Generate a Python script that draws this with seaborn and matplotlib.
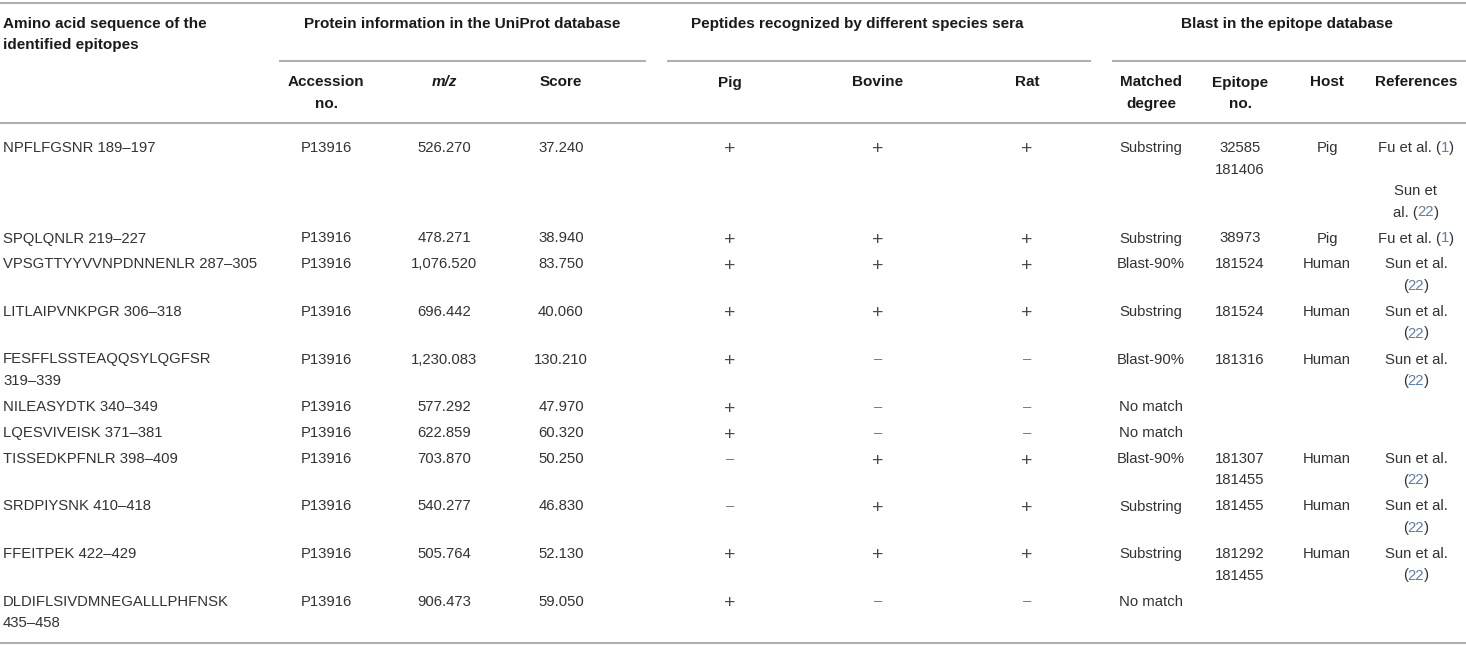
import re
import matplotlib
matplotlib.use("Agg")
import matplotlib.pyplot as plt
import pandas as pd
import seaborn as sns

# Table content
sequences = [
    "NPFLFGSNR 189–197",
    "SPQLQNLR 219–227",
    "VPSGTTYYVVNPDNNENLR 287–305",
    "LITLAIPVNKPGR 306–318",
    "FESFFLSSTEAQQSYLQGFSR\n319–339",
    "NILEASYDTK 340–349",
    "LQESVIVEISK 371–381",
    "TISSEDKPFNLR 398–409",
    "SRDPIYSNK 410–418",
    "FFEITPEK 422–429",
    "DLDIFLSIVDMNEGALLLPHFNSK\n435–458",
]
accession = ["P13916"] * 11
mz_values = [526.270, 478.271, 1076.520, 696.442, 1230.083, 577.292,
             622.859, 703.870, 540.277, 505.764, 906.473]
scores = [37.240, 38.940, 83.750, 40.060, 130.210, 47.970,
          60.320, 50.250, 46.830, 52.130, 59.050]
pig = ["+", "+", "+", "+", "+", "+", "+", "–", "–", "+", "+"]
bovine = ["+", "+", "+", "+", "–", "–", "–", "+", "+", "+", "–"]
rat = ["+", "+", "+", "+", "–", "–", "–", "+", "+", "+", "–"]
matched = ["Substring", "Substring", "Blast-90%", "Substring", "Blast-90%",
           "No match", "No match", "Blast-90%", "Substring", "Substring",
           "No match"]
epitope_no = ["32585\n181406", "38973", "181524", "181524", "181316", "", "",
              "181307\n181455", "181455", "181292\n181455", ""]
host = ["Pig", "Pig", "Human", "Human", "Human", "", "", "Human", "Human",
        "Human", ""]
references = ["Fu et al. (1)\n\nSun et\nal. (22)", "Fu et al. (1)",
              "Sun et al.\n(22)", "Sun et al.\n(22)", "Sun et al.\n(22)", "", "",
              "Sun et al.\n(22)", "Sun et al.\n(22)", "Sun et al.\n(22)", ""]

group_labels = ["Protein information in the UniProt database",
                "Peptides recognized by different species sera",
                "Blast in the epitope database"]
first_header = "Amino acid sequence of the\nidentified epitopes"
sub_headers = ["Accession\nno.", "m/z", "Score", "Pig", "Bovine", "Rat",
               "Matched\ndegree", "Epitope\nno.", "Host", "References"]

# Layout (pixels, figure is 1466 x 647 at dpi 100)
W, H = 1466, 647
COL_X = [3, 326, 444, 561, 730, 878, 1027, 1151, 1240, 1327, 1416]
GROUP_SPANS = [(279, 646), (667, 1091), (1112, 1466)]
GROUP_X = [462, 857, 1287]
LINE_H = 21.5
ROW_PAD = 4.5
BODY_FS = 10.7
HEAD_FS = 11.0
TEXT = "#333333"
HEAD = "#1a1a1a"
LINK = "#5a7fa8"
RULE = "#b0b0b0"


def build_table():
    """Put the lists into one DataFrame, one row per epitope."""
    df = pd.DataFrame({
        "seq": sequences,
        "acc": accession,
        "mz": [f"{v:,.3f}" for v in mz_values],
        "score": [f"{v:,.3f}" for v in scores],
        "pig": pig,
        "bovine": bovine,
        "rat": rat,
        "matched": matched,
        "epitope": epitope_no,
        "host": host,
        "refs": references,
    })
    return df


def draw_lines(ax, x, baseline, text, ha="center", **kw):
    """Draw a multi-line cell one line at a time with a fixed spacing."""
    for i, line in enumerate(text.split("\n")):
        if line:
            ax.text(x, baseline + i * LINE_H, line, ha=ha, va="baseline", **kw)


def draw_ref(ax, renderer, x, baseline, text):
    """Reference cell: citation numbers get the link colour."""
    for i, line in enumerate(text.split("\n")):
        if not line:
            continue
        y = baseline + i * LINE_H
        parts = [p for p in re.split(r"(\d+)", line) if p]
        probe = ax.text(0, 0, line, fontsize=BODY_FS)
        total = probe.get_window_extent(renderer).width
        offsets = []
        for k in range(len(parts)):
            prefix = "".join(parts[:k])
            if prefix:
                probe.set_text(prefix)
                offsets.append(probe.get_window_extent(renderer).width)
            else:
                offsets.append(0.0)
        probe.remove()
        start = x - total / 2
        for p, off in zip(parts, offsets):
            ax.text(start + off, y, p, ha="left", va="baseline",
                    fontsize=BODY_FS, color=LINK if p.isdigit() else TEXT)


def draw_sign(ax, x, baseline, sign):
    if sign == "+":
        ax.text(x, baseline + 2.5, "+", ha="center", va="baseline",
                fontsize=14, color="#4a4a4a")
    else:
        ax.text(x, baseline, "–", ha="center", va="baseline",
                fontsize=BODY_FS, color="#7a7a7a")


def main():
    sns.set_theme(style="white")
    plt.rcParams["font.family"] = ["Liberation Sans", "DejaVu Sans"]

    df = build_table()

    fig = plt.figure(figsize=(W / 100, H / 100), dpi=100)
    ax = fig.add_axes([0, 0, 1, 1])
    ax.set_xlim(0, W)
    ax.set_ylim(H, 0)
    ax.axis("off")
    renderer = fig.canvas.get_renderer()

    # rules
    ax.hlines([3, 123], 0, W, color=RULE, lw=1.5)
    for x0, x1 in GROUP_SPANS:
        ax.hlines(61, x0, x1, color=RULE, lw=1.5)

    # headers
    head_kw = dict(fontsize=HEAD_FS, fontweight="bold", color=HEAD)
    draw_lines(ax, COL_X[0], 28, first_header, ha="left", **head_kw)
    for label, gx in zip(group_labels, GROUP_X):
        draw_lines(ax, gx, 28, label, **head_kw)
    for label, cx in zip(sub_headers, COL_X[1:]):
        style = "italic" if label == "m/z" else "normal"
        draw_lines(ax, cx, 86.5, label, fontstyle=style, **head_kw)

    # body rows
    body_kw = dict(fontsize=BODY_FS, color=TEXT)
    baseline = 152.0
    for _, row in df.iterrows():
        draw_lines(ax, COL_X[0], baseline, row["seq"], ha="left", **body_kw)
        draw_lines(ax, COL_X[1], baseline, row["acc"], **body_kw)
        draw_lines(ax, COL_X[2], baseline, row["mz"], **body_kw)
        draw_lines(ax, COL_X[3], baseline, row["score"], **body_kw)
        for col, cx in zip(["pig", "bovine", "rat"], COL_X[4:7]):
            draw_sign(ax, cx, baseline, row[col])
        draw_lines(ax, COL_X[7], baseline, row["matched"], **body_kw)
        draw_lines(ax, COL_X[8], baseline, row["epitope"], **body_kw)
        draw_lines(ax, COL_X[9], baseline, row["host"], **body_kw)
        draw_ref(ax, renderer, COL_X[10], baseline, row["refs"])

        n_lines = max(str(v).count("\n") + 1 for v in row.values)
        baseline += n_lines * LINE_H + ROW_PAD

    ax.hlines(643, 0, W, color=RULE, lw=1.5)

    fig.savefig("out.png", dpi=100)


if __name__ == "__main__":
    main()
